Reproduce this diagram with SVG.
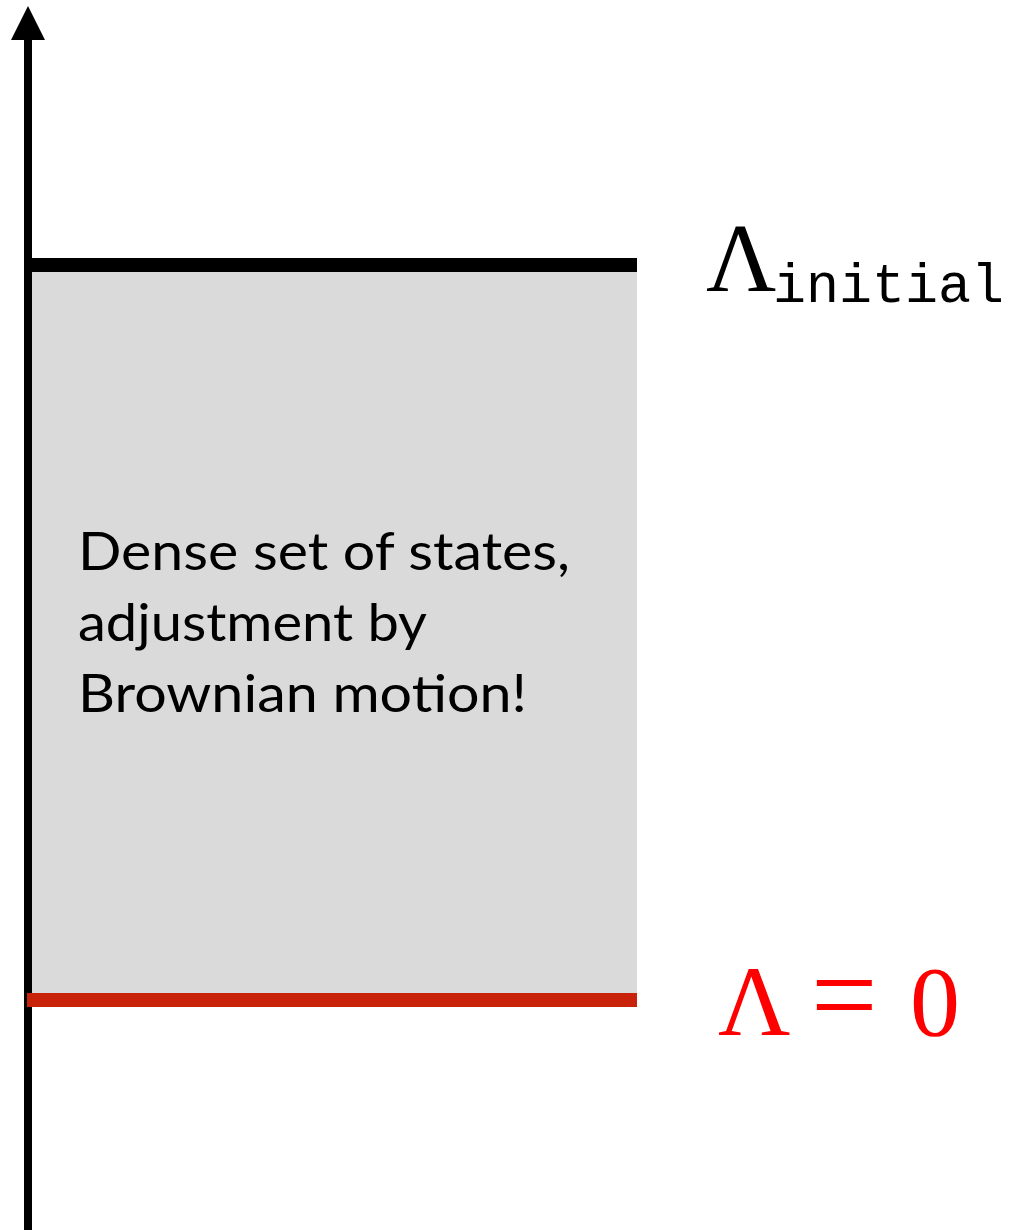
<svg xmlns="http://www.w3.org/2000/svg" width="1014" height="1230" viewBox="0 0 1014 1230">
<style>
.body{font-family:"Lato","Open Sans",sans-serif;font-size:53px;fill:#000}
.math{font-family:"Liberation Serif","DejaVu Serif",serif}
.mono{font-family:"Liberation Mono","DejaVu Sans Mono",monospace}
</style>
<rect width="1014" height="1230" fill="#fff"/>
<g id="region">
<rect x="32" y="272" width="605" height="721" fill="#d9dad9"/>
<text class="body" x="78" y="570" textLength="492" lengthAdjust="spacingAndGlyphs">Dense set of states,</text>
<text class="body" x="78" y="641" textLength="349" lengthAdjust="spacingAndGlyphs">adjustment by</text>
<text class="body" x="78" y="712" textLength="449" lengthAdjust="spacingAndGlyphs">Brownian motion!</text>
</g>
<g id="connectors">
<line x1="28" y1="1230" x2="28" y2="38" stroke="#000" stroke-width="8"/>
<polygon points="28,6 11,40 45,40" fill="#000"/>
</g>
<g id="initial">
<rect x="32" y="258" width="605" height="14" fill="#000"/>
<text x="706" y="291" class="math" font-size="97">Λ</text>
<text x="773" y="302" class="mono" font-size="55">initial</text>
</g>
<g id="zero">
<rect x="27" y="993" width="610" height="14" fill="#c8230a"/>
<text x="718" y="1035" class="math" font-size="100" fill="#ff0000">Λ</text>
<text x="811" y="1035" class="math" font-size="118" fill="#ff0000">=</text>
<text x="910" y="1035" class="math" font-size="100" fill="#ff0000">0</text>
</g>
</svg>
